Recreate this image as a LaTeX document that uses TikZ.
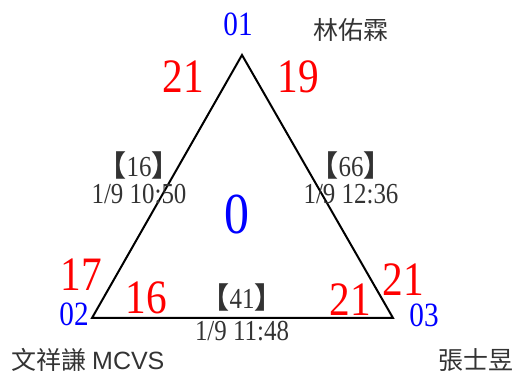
\documentclass[tikz,border=0pt]{standalone}
\usepackage{fontspec}
\setmainfont{Liberation Serif}
\newfontfamily\narrow[FakeStretch=0.86]{Liberation Serif}
\newfontfamily\cjk{Noto Sans CJK TC}
\newfontfamily\arial{Liberation Sans}
\usetikzlibrary{calc,positioning}
\newcommand{\Brk}[1]{{\cjk\bfseries 【}#1{\cjk\bfseries 】}}

\begin{document}
\begin{tikzpicture}[x=1pt,y=1pt,
 score/.style={text=red,font=\fontsize{48}{48}\selectfont\narrow,inner sep=0pt},
 site/.style={text=blue,font=\fontsize{34}{34}\selectfont\narrow,inner sep=0pt},
 game/.style={text=black!80,font=\fontsize{29}{29}\selectfont\narrow,inner sep=0pt},
 who/.style={text=black!80,font=\fontsize{25}{25}\selectfont\cjk,inner sep=0pt}]

    \useasboundingbox (0,0) rectangle (520,374);

    \coordinate (O1) at (242,319);
    \coordinate (O2) at (92,56);
    \coordinate (O3) at (393,56);

	\draw[line width=2pt] (O1) -- (O2) -- (O3) -- cycle;

    % corners
    \node[site] (s1) at (238,350) {01};
    \node[site] (s2) at (74,60) {02};
    \node[site] (s3) at (424,59) {03};
    \node[who] (n1) at (351,344) {林佑霖};
    \node[who] (n2) at (88,14) {文祥謙 {\arial MCVS}};
    \node[who] (n3) at (476,14) {張士昱};

    % scores
    \node[score] (p12) at (183,297) {21};
    \node[score] (p13) at (298,297) {19};
    \node[score] (p21) at (81,99) {17};
    \node[score] (p23) at (146,76) {16};
    \node[score] (p32) at (350,74) {21};
    \node[score] (p31) at (403,94) {21};
    \node[text=blue,font=\fontsize{58}{58}\selectfont\narrow,inner sep=0pt] (mid) at (237,159) {0};

    % games
    \node[game] (g12) at (139,209) {\Brk{16}};
    \node[game,below=5pt of g12.south] (t12) {1/9 10:50};
    \node[game] (g13) at (351,209) {\Brk{66}};
    \node[game,below=5pt of g13.south] (t13) {1/9 12:36};
    \node[game] (g23) at (242,77) {\Brk{41}};
    \node[game] (t23) at (242,43) {1/9 11:48};

\end{tikzpicture}
\end{document}
